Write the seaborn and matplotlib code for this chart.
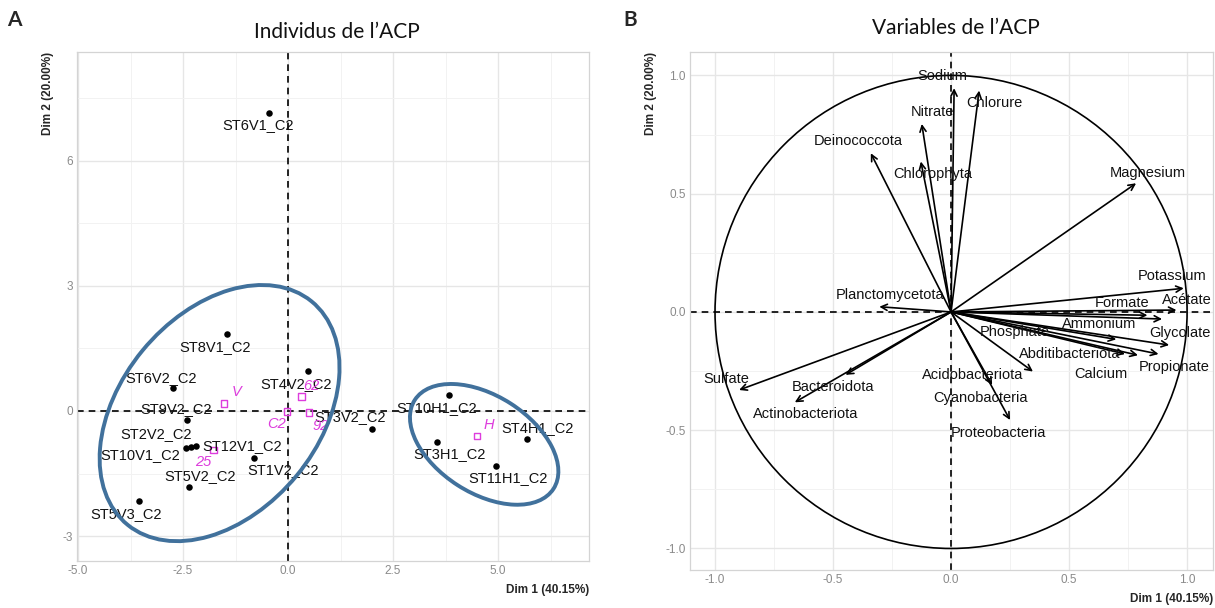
import numpy as np
import pandas as pd
import matplotlib.pyplot as plt
from matplotlib.patches import Ellipse, Circle
import seaborn as sns

# individus (coordonnees)
ind_names = ['ST6V1_C2', 'ST8V1_C2', 'ST4V2_C2', 'ST6V2_C2', 'ST9V2_C2', 'ST2V2_C2',
             'ST10V1_C2', 'ST12V1_C2', 'ST1V2_C2', 'ST5V2_C2', 'ST5V3_C2', 'ST3V2_C2',
             'ST10H1_C2', 'ST3H1_C2', 'ST4H1_C2', 'ST11H1_C2']
ind_dim1 = [-0.45, -1.46, 0.47, -2.73, -2.40, -2.43, -2.31, -2.19, -0.80, -2.35, -3.56, 1.99,
            3.83, 3.55, 5.68, 4.95]
ind_dim2 = [7.15, 1.84, 0.96, 0.54, -0.21, -0.88, -0.86, -0.84, -1.12, -1.82, -2.15, -0.42,
            0.38, -0.75, -0.68, -1.33]

# individus supplementaires / moyennes
sup_names = ['V', '62', 'C2', '92', '25', 'H']
sup_dim1 = [-1.52, 0.32, -0.02, 0.50, -1.77, 4.50]
sup_dim2 = [0.18, 0.35, -0.01, -0.04, -0.93, -0.60]

# variables
var_names = ['Sodium', 'Chlorure', 'Nitrate', 'Deinococcota', 'Chlorophyta', 'Magnesium',
             'Planctomycetota', 'Potassium', 'Acétate', 'Formate', 'Ammonium', 'Glycolate',
             'Propionate', 'Calcium', 'Abditibacteriota', 'Phosphate', 'Acidobacteriota',
             'Cyanobacteria', 'Proteobacteria', 'Sulfate', 'Bacteroidota', 'Actinobacteriota']
var_dim1 = [0.013, 0.119, -0.124, -0.34, -0.128, 0.784, -0.304, 0.986, 0.955, 0.832, 0.894,
            0.924, 0.879, 0.792, 0.737, 0.70, 0.347, 0.174, 0.25, -0.898, -0.447, -0.662]
var_dim2 = [0.946, 0.936, 0.795, 0.671, 0.636, 0.544, 0.022, 0.100, 0.008, -0.014, -0.030,
            -0.140, -0.178, -0.183, -0.178, -0.116, -0.252, -0.309, -0.457, -0.33, -0.266, -0.382]

# decalage des etiquettes (pixels)
ind_off = [(-11, -12), (-12, -13), (-12, -13), (-12, 10), (-11, 11), (-30, 14), (-51, -8),
           (46, 0), (29, -12), (11, 11), (-12, -13), (-22, 11), (-12, -13), (12, -12),
           (11, 11), (12, -12)]
sup_off = [(12, 11), (10, 10), (-11, -13), (12, -13), (-10, -12), (12, 11)]
var_off = [(-12, 12), (15, -12), (11, 12), (-13, 12), (12, -12), (12, 10), (11, 12), (-12, 12),
           (10, 10), (-25, 12), (-63, -5), (11, 12), (16, -13), (-37, -19), (-55, 0),
           (-102, 7), (-60, -3), (-12, -13), (-12, -13), (-13, 11), (-13, -12), (11, -12)]

df_ind = pd.DataFrame({'nom': ind_names, 'Dim1': ind_dim1, 'Dim2': ind_dim2})
df_sup = pd.DataFrame({'nom': sup_names, 'Dim1': sup_dim1, 'Dim2': sup_dim2})
df_var = pd.DataFrame({'nom': var_names, 'Dim1': var_dim1, 'Dim2': var_dim2})

sns.set_theme(style='whitegrid')
plt.rcParams['font.family'] = ['Liberation Sans', 'DejaVu Sans']

fig = plt.figure(figsize=(12.15, 6.08), dpi=100)
ax1 = fig.add_axes([0.0634, 0.0773, 0.4214, 0.8372])
ax2 = fig.add_axes([0.5679, 0.0625, 0.4305, 0.852])

magenta = '#dd3ddd'
grid_major = '#e6e6e6'
grid_minor = '#f2f2f2'


def style_axes(ax, xmaj, xmin, ymaj, ymin, xlab, ylab):
    ax.set_xticks(xmaj)
    ax.set_xticks(xmin, minor=True)
    ax.set_yticks(ymaj)
    ax.set_yticks(ymin, minor=True)
    ax.set_xticklabels(xlab)
    ax.set_yticklabels(ylab)
    ax.grid(True, which='major', color=grid_major, lw=1.0)
    ax.grid(True, which='minor', color=grid_minor, lw=0.7)
    ax.tick_params(which='both', length=0, labelsize=8.5, labelcolor='#8a8a8a', pad=3)
    for s in ax.spines.values():
        s.set_color('#d4d4d4')
        s.set_linewidth(0.9)
    ax.set_xlabel('Dim 1 (40.15%)', loc='right', fontsize=8.5, fontweight='bold', labelpad=5)
    ax.set_ylabel('Dim 2 (20.00%)', loc='top', fontsize=8.5, fontweight='bold', labelpad=6)
    ax.axhline(0, color='black', ls=(0, (4, 3)), lw=1.2, zorder=1)
    ax.axvline(0, color='black', ls=(0, (4, 3)), lw=1.2, zorder=1)


# ---- A : individus
sns.scatterplot(data=df_ind, x='Dim1', y='Dim2', ax=ax1, color='black', s=22,
                edgecolor='black', linewidth=0, zorder=3)
sns.scatterplot(data=df_sup, x='Dim1', y='Dim2', ax=ax1, marker='s', s=22,
                facecolor='none', edgecolor=magenta, linewidth=1.0, zorder=3)
for (n, x, y), (dx, dy) in zip(df_ind[['nom', 'Dim1', 'Dim2']].values, ind_off):
    ax1.annotate(n, (x, y), xytext=(dx, dy), textcoords='offset pixels',
                 ha='center', va='center', fontsize=10.5, color='#111111', zorder=4)
for (n, x, y), (dx, dy) in zip(df_sup[['nom', 'Dim1', 'Dim2']].values, sup_off):
    ax1.annotate(n, (x, y), xytext=(dx, dy), textcoords='offset pixels',
                 ha='center', va='center', fontsize=10.5, color=magenta, style='italic', zorder=4)

ax1.set_xlim(-5.024, 7.167)
ax1.set_ylim(-3.597, 8.609)
style_axes(ax1, [-5, -2.5, 0, 2.5, 5], [-3.75, -1.25, 1.25, 3.75, 6.25],
           [-3, 0, 3, 6], [-1.5, 1.5, 4.5, 7.5],
           ['-5.0', '-2.5', '0.0', '2.5', '5.0'], ['-3', '0', '3', '6'])

# ellipses dessinees a la main (groupes V et H)
ax1.add_patch(Ellipse((-1.63, -0.05), 6.92, 4.74, angle=50.8, fill=False,
                      edgecolor='#41719c', lw=2.8, zorder=5, clip_on=False))
ax1.add_patch(Ellipse((4.67, -0.80), 3.93, 2.33, angle=-32.9, fill=False,
                      edgecolor='#41719c', lw=2.8, zorder=5, clip_on=False))

# ---- B : variables
ax2.set_xlim(-1.106, 1.110)
ax2.set_ylim(-1.091, 1.099)
style_axes(ax2, [-1, -0.5, 0, 0.5, 1], [-0.75, -0.25, 0.25, 0.75],
           [-1, -0.5, 0, 0.5, 1], [-0.75, -0.25, 0.25, 0.75],
           ['-1.0', '-0.5', '0.0', '0.5', '1.0'], ['-1.0', '-0.5', '0.0', '0.5', '1.0'])
ax2.add_patch(Circle((0, 0), 1, fill=False, edgecolor='black', lw=1.2, zorder=2))
for (n, x, y), (dx, dy) in zip(df_var[['nom', 'Dim1', 'Dim2']].values, var_off):
    ax2.annotate('', xy=(x, y), xytext=(0, 0),
                 arrowprops=dict(arrowstyle='->', color='black', lw=1.2,
                                 shrinkA=0, shrinkB=0, mutation_scale=11), zorder=3)
    ax2.annotate(n, (x, y), xytext=(dx, dy), textcoords='offset pixels',
                 ha='center', va='center', fontsize=10.5, color='#111111', zorder=4)

# titres et lettres des panneaux
fig.text(337 / 1215, 1 - 32 / 608, 'Individus de l’ACP', ha='center', va='center',
         fontsize=15, family=['Lato', 'DejaVu Sans'], color='#111111')
fig.text(956 / 1215, 1 - 28 / 608, 'Variables de l’ACP', ha='center', va='center',
         fontsize=15, family=['Lato', 'DejaVu Sans'], color='#111111')
fig.text(14 / 1215, 1 - 20 / 608, 'A', ha='center', va='center', fontsize=15,
         fontweight='bold', family=['Lato', 'DejaVu Sans'])
fig.text(630 / 1215, 1 - 20 / 608, 'B', ha='center', va='center', fontsize=15,
         fontweight='bold', family=['Lato', 'DejaVu Sans'])

plt.savefig('out.png', dpi=100)
